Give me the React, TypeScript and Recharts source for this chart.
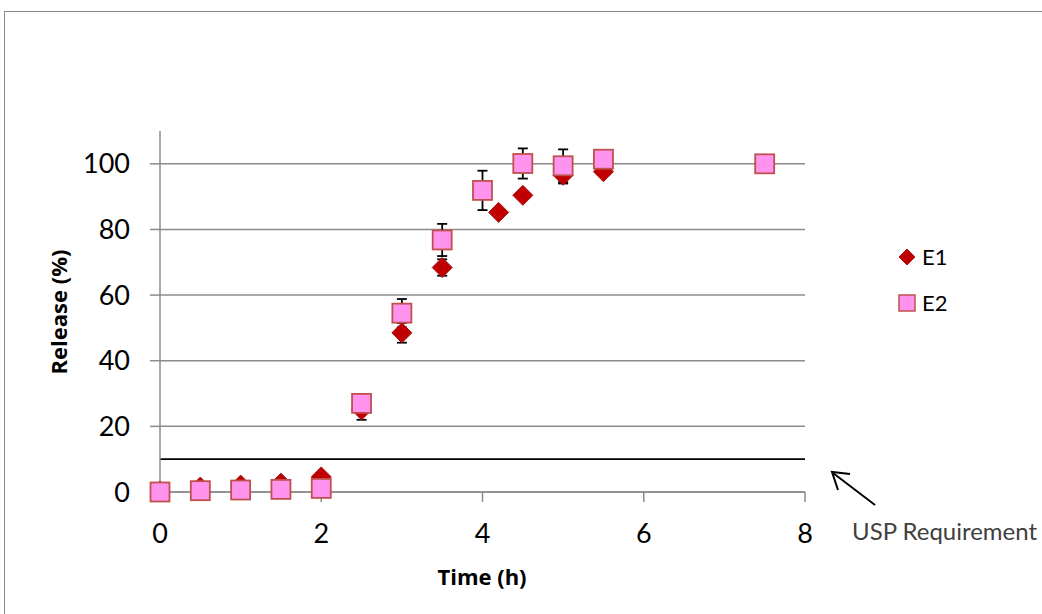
import React from "react";
import {
  ScatterChart,
  Scatter,
  XAxis,
  YAxis,
  CartesianGrid,
  ReferenceLine,
  ErrorBar,
} from "recharts";

// E1 (diamonds)
const timesE1 = [0, 0.5, 1, 1.5, 2, 2.5, 3, 3.5, 4.2, 4.5, 5, 5.5, 7.5];
const releaseE1 = [0.3, 1.5, 2.1, 2.7, 4.6, 25, 48.5, 68.4, 85.2, 90.4, 96.5, 97.6, 100];
const errE1 = [0, 0, 0, 0, 0, 3, 3, 2.5, 1, 0.5, 2.5, 1, 0];

// E2 (squares)
const timesE2 = [0, 0.5, 1, 1.5, 2, 2.5, 3, 3.5, 4, 4.5, 5, 5.5, 7.5];
const releaseE2 = [0, 0.4, 0.6, 0.8, 1.1, 27, 54.5, 76.8, 91.9, 100.1, 99.4, 101.4, 100];
const errE2 = [0, 0, 0, 0, 0, 0, 4.3, 4.9, 6, 4.6, 5, 1, 0];

const seriesNames = ["E1", "E2"];
const xTicks = [0, 2, 4, 6, 8];
const yTicks = [0, 20, 40, 60, 80, 100];
const uspLimit = 10;

const FONT = "Lato, 'Open Sans', sans-serif";
const TITLE_FONT = "'Open Sans', Lato, sans-serif";
const GRID = "#8c8c8c";

const e1Data = timesE1.map((x, i) => ({ x, y: releaseE1[i], err: errE1[i] }));
const e2Data = timesE2.map((x, i) => ({ x, y: releaseE2[i], err: errE2[i] }));

const Diamond = (props: any) => {
  const { cx, cy } = props;
  if (cx == null || cy == null) return null;
  const r = 10;
  return (
    <polygon
      points={`${cx},${cy - r} ${cx + r},${cy} ${cx},${cy + r} ${cx - r},${cy}`}
      fill="#C00000"
      stroke="#A51515"
      strokeWidth={1}
    />
  );
};

const Square = (props: any) => {
  const { cx, cy } = props;
  if (cx == null || cy == null) return null;
  const h = 9.5;
  return (
    <rect
      x={cx - h}
      y={cy - h}
      width={h * 2}
      height={h * 2}
      fill="#FF94EE"
      stroke="#C0504D"
      strokeWidth={1.8}
    />
  );
};

export default function App() {
  return (
    <div
      style={{
        position: "fixed",
        left: 0,
        top: 0,
        width: 1042,
        height: 614,
        background: "#fff",
        overflow: "hidden",
      }}
    >
      <div
        style={{
          position: "absolute",
          left: 4,
          top: 11,
          width: 1100,
          height: 700,
          border: "1.5px solid #8a8a8a",
        }}
      />
      <ScatterChart
        width={1042}
        height={614}
        margin={{ top: 131, right: 237, bottom: 72, left: 100 }}
        style={{ position: "absolute", left: 0, top: 0 }}
      >
        <CartesianGrid
          vertical={false}
          horizontalValues={yTicks}
          stroke={GRID}
          strokeWidth={1.5}
        />
        <XAxis
          type="number"
          dataKey="x"
          domain={[0, 8]}
          ticks={xTicks}
          height={50}
          stroke={GRID}
          strokeWidth={1.5}
          tickSize={10}
          tickMargin={22}
          tick={{ fill: "#000", fontSize: 27, fontFamily: FONT }}
        />
        <YAxis
          type="number"
          dataKey="y"
          domain={[0, 110]}
          ticks={yTicks}
          width={60}
          stroke={GRID}
          strokeWidth={1.5}
          tickSize={10}
          tickMargin={20}
          tick={{ fill: "#000", fontSize: 27, fontFamily: FONT }}
        />
        <ReferenceLine y={uspLimit} stroke="#000" strokeWidth={1.8} />
        <Scatter name={seriesNames[0]} data={e1Data} shape={Diamond} isAnimationActive={false}>
          <ErrorBar dataKey="err" direction="y" width={5} stroke="#000" strokeWidth={1.8} />
        </Scatter>
        <Scatter name={seriesNames[1]} data={e2Data} shape={Square} isAnimationActive={false}>
          <ErrorBar dataKey="err" direction="y" width={5} stroke="#000" strokeWidth={1.8} />
        </Scatter>
      </ScatterChart>

      {/* legend */}
      <div
        style={{
          position: "absolute",
          left: 898,
          top: 242,
          fontFamily: FONT,
          fontSize: 22,
          color: "#000",
          lineHeight: "30px",
        }}
      >
        <div style={{ display: "flex", alignItems: "center", height: 30, marginBottom: 16 }}>
          <svg width={18} height={18}>
            <polygon points="9,1 17,9 9,17 1,9" fill="#C00000" stroke="#A51515" />
          </svg>
          <span style={{ marginLeft: 6 }}>{seriesNames[0]}</span>
        </div>
        <div style={{ display: "flex", alignItems: "center", height: 30 }}>
          <svg width={18} height={18}>
            <rect x={1} y={1} width={16} height={16} fill="#FF94EE" stroke="#C0504D" strokeWidth={1.5} />
          </svg>
          <span style={{ marginLeft: 6 }}>{seriesNames[1]}</span>
        </div>
      </div>

      <svg
        width={1042}
        height={614}
        style={{ position: "absolute", left: 0, top: 0, pointerEvents: "none" }}
      >
        <text
          x={482}
          y={585}
          textAnchor="middle"
          fontFamily={TITLE_FONT}
          fontWeight="bold"
          fontSize={22}
          fill="#000"
        >
          Time (h)
        </text>
        <text
          transform="translate(67,312) rotate(-90)"
          textAnchor="middle"
          fontFamily={TITLE_FONT}
          fontWeight="bold"
          fontSize={22}
          fill="#000"
        >
          Release (%)
        </text>
        <line x1={875} y1={505} x2={833} y2={473} stroke="#000" strokeWidth={2} />
        <polyline
          points="850,474 832,472 838,490"
          fill="none"
          stroke="#000"
          strokeWidth={2}
        />
        <text
          x={852}
          y={540}
          fontFamily={FONT}
          fontSize={23}
          fill="#404040"
          textLength={185}
          lengthAdjust="spacingAndGlyphs"
        >
          USP Requirement
        </text>
      </svg>
    </div>
  );
}
